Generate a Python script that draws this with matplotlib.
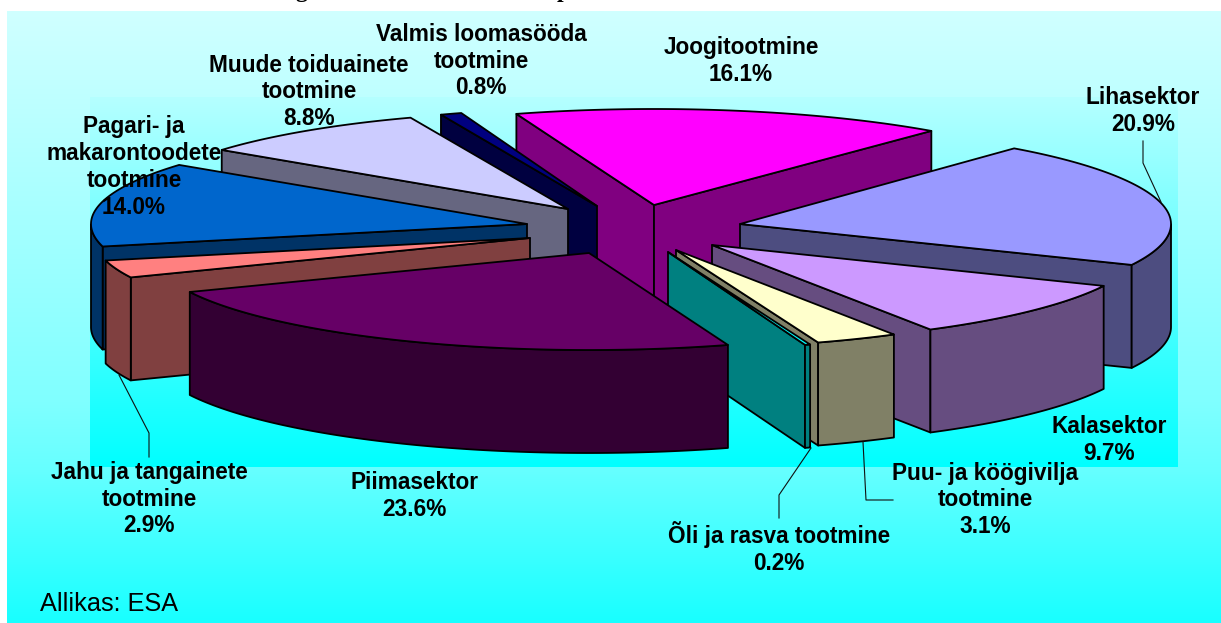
import numpy as np
import matplotlib
matplotlib.use("Agg")
import matplotlib.pyplot as plt
from matplotlib.patches import Polygon

# ---- data (clockwise from the start angle)
categories = ["Joogitootmine", "Lihasektor", "Kalasektor", "Puu- ja köögivilja\ntootmine",
              "Õli ja rasva tootmine", "Piimasektor", "Jahu ja tangainete\ntootmine",
              "Pagari- ja\nmakarontoodete\ntootmine", "Muude toiduainete\ntootmine",
              "Valmis loomasööda\ntootmine"]
shares = [16.1, 20.9, 9.7, 3.1, 0.2, 23.6, 2.9, 14.0, 8.8, 0.8]
source_note = "Allikas: ESA"
# only the lowest strokes of these title glyphs show at the top edge of the picture
title_fragments = ["g", "p", "(", ")"]

# ---- style
top_colors = ["#FF00FF", "#9999FF", "#CC99FF", "#FFFFCC", "#00FFFF",
              "#660066", "#FF8080", "#0066CC", "#CCCCFF", "#000080"]
wall_colors = ["#800080", "#4D4D80", "#664D80", "#808066", "#008080",
               "#330033", "#804040", "#003366", "#666680", "#000040"]
apexes = [(654, 205), (740, 224), (712, 245), (676, 250), (668, 252),
          (589, 253), (530, 238), (527, 224), (568, 209), (597, 206)]
radii_x = [436, 431, 431, 430, 430, 436, 436, 436, 434, 430]
radii_y = [96, 98, 98, 98, 98, 97, 98, 98, 98, 98]
label_pos = [(741, 61), (1143, 111), (1109, 440), (985, 500), (779, 548),
             (414, 496), (149, 499), (134, 167), (309, 92), (481, 61)]
title_pos = [(301, -3), (563, -3), (950, -5), (990, -5)]
draw_order = [0, 9, 8, 7, 6, 1, 2, 3, 4, 5]
START, DEPTH = 108.4, 103.0
leaders = [[(1143, 141), (1143, 163), (1161, 202)],
           [(119, 375), (149, 433), (149, 457)],
           [(863, 442), (866, 500), (893, 500)],
           [(811, 448), (779, 495), (779, 518)]]

W, H = 1221, 623
fig = plt.figure(figsize=(W / 100, H / 100), dpi=100, facecolor="white")
ax = fig.add_axes([0, 0, 1, 1])
ax.set_xlim(0, W)
ax.set_ylim(H, 0)
ax.axis("off")


def gradient(x0, x1, y0, y1, ys, reds, z):
    yy = np.linspace(y0, y1, 400)
    r = np.interp(yy, ys, reds) / 255.0
    img = np.ones((400, 1, 3))
    img[:, 0, 0] = r
    ax.imshow(img, extent=(x0, x1, y1, y0), aspect="auto", zorder=z, interpolation="bilinear")


gradient(7, W, 11, H, [11, 400, 470, 623], [208, 128, 102, 24], 0)
gradient(90, 1178, 97, 467, [97, 467], [181, 0], 1)
ax.set_xlim(0, W)
ax.set_ylim(H, 0)

frac = np.array(shares) / np.sum(shares) * 360.0
ends = START - np.cumsum(frac)
starts = ends + frac

z = 3
for i in draw_order:
    ax_, ay_ = apexes[i]
    th = np.radians(np.linspace(starts[i], ends[i], 90))
    xs = ax_ + radii_x[i] * np.cos(th)
    ys = ay_ - radii_y[i] * np.sin(th)
    pk = dict(edgecolor="black", linewidth=1.3, joinstyle="round")
    # radial walls facing the viewer
    if xs[0] < ax_:
        q = [(ax_, ay_), (xs[0], ys[0]), (xs[0], ys[0] + DEPTH), (ax_, ay_ + DEPTH)]
        ax.add_patch(Polygon(q, closed=True, facecolor=wall_colors[i], zorder=z, **pk))
        z += 1
    if xs[-1] > ax_:
        q = [(ax_, ay_), (xs[-1], ys[-1]), (xs[-1], ys[-1] + DEPTH), (ax_, ay_ + DEPTH)]
        ax.add_patch(Polygon(q, closed=True, facecolor=wall_colors[i], zorder=z, **pk))
        z += 1
    # outer rim where it runs leftwards on screen
    mask = np.sin(th) <= 0
    if mask.sum() > 1:
        xa, ya = xs[mask], ys[mask]
        q = np.vstack([np.column_stack([xa, ya]), np.column_stack([xa, ya + DEPTH])[::-1]])
        ax.add_patch(Polygon(q, closed=True, facecolor=wall_colors[i], zorder=z, **pk))
        z += 1
    top = np.vstack([[ax_, ay_], np.column_stack([xs, ys])])
    ax.add_patch(Polygon(top, closed=True, facecolor=top_colors[i], zorder=z, **pk))
    z += 1

for pts in leaders:
    p = np.array(pts)
    ax.plot(p[:, 0], p[:, 1], color="#101010", lw=0.8, zorder=z)
z += 1

lab_font = dict(family="Liberation Sans", fontweight="bold", fontsize=16.3, color="black",
                ha="center", va="center", linespacing=1.22, zorder=z)
for name, val, (x, y) in zip(categories, shares, label_pos):
    ax.text(x, y, f"{name}\n{val:.1f}%", **lab_font)

ax.text(40, 604, source_note, family="Liberation Sans", fontsize=18.2, color="black",
        ha="left", va="center", zorder=z)

for s, (x, y) in zip(title_fragments, title_pos):
    ax.text(x, y, s, family="Liberation Serif", fontweight="bold", fontsize=17, color="black",
            ha="center", va="baseline", zorder=z)

fig.savefig("out.png", dpi=100, facecolor="white")
